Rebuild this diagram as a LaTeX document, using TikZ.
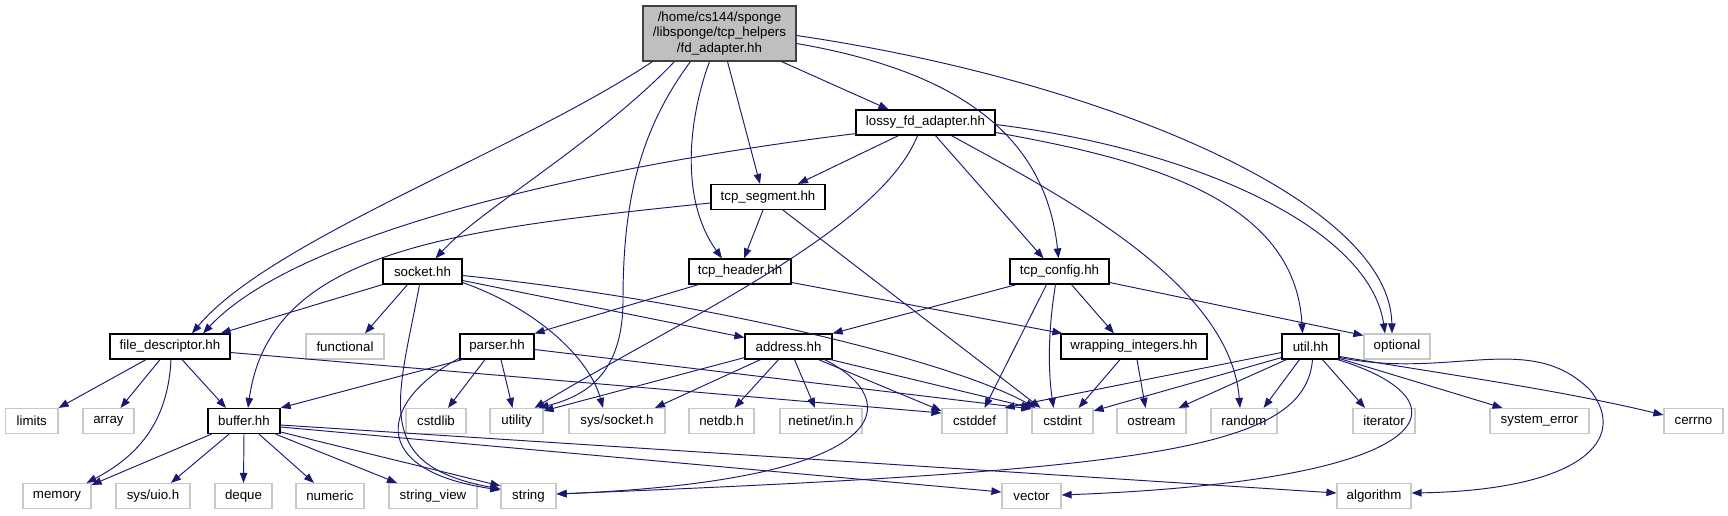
\documentclass[tikz,border=0pt]{standalone}
\usepackage{fontspec}
\setmainfont{Liberation Sans}
\usetikzlibrary{arrows.meta,calc}
\definecolor{edgeblue}{HTML}{191970}
\definecolor{rootfill}{HTML}{BFBFBF}
\definecolor{grayline}{HTML}{C8C8C8}
\newcommand\dfont{\fontsize{13.3}{15.5}\selectfont}
\tikzset{
  blk/.style={draw=black, line width=1.2pt, fill=white, minimum height=25pt, inner sep=0pt, font=\dfont},
  gry/.style={draw=grayline, line width=1.2pt, fill=white, minimum height=25pt, inner sep=0pt, font=\dfont},
  rootbox/.style={draw=black!75, line width=1.2pt, fill=rootfill, minimum width=153pt, minimum height=55pt, inner sep=0pt, align=center, font=\dfont},
  edge/.style={draw=edgeblue, line width=0.95pt, -{Triangle[length=10pt,width=7.5pt]}}
}
\begin{document}
\begin{tikzpicture}[x=1pt,y=-1pt]
\useasboundingbox (0,0) rectangle (1728,515);
% nodes
\node[rootbox] (root) at (719.5,33.5) {/home/cs144/sponge\\/libsponge/tcp\_helpers\\/fd\_adapter.hh};
\node[blk, minimum width=139pt] (lossy) at (925.5,122.5) {lossy\_fd\_adapter.hh};
\node[blk, minimum width=114pt] (tcpseg) at (768,197) {tcp\_segment.hh};
\node[blk, minimum width=79pt] (socket) at (422.5,271.5) {socket.hh};
\node[blk, minimum width=102pt] (tcphdr) at (740,271.5) {tcp\_header.hh};
\node[blk, minimum width=99pt] (tcpcfg) at (1059.5,271.5) {tcp\_config.hh};
\node[blk, minimum width=120pt] (fdesc) at (170,346.5) {file\_descriptor.hh};
\node[gry, minimum width=78pt] (functional) at (345,346.5) {functional};
\node[blk, minimum width=74pt] (parser) at (497,346.5) {parser.hh};
\node[blk, minimum width=87pt] (address) at (788.5,346.5) {address.hh};
\node[blk, minimum width=146pt] (wrapping) at (1134,346.5) {wrapping\_integers.hh};
\node[blk, minimum width=57pt] (util) at (1310.5,346.5) {util.hh};
\node[gry, minimum width=66pt] (optional) at (1397,346.5) {optional};
% row 1
\node[gry, minimum width=52.5pt] (limits) at (31.75,421) {limits};
\node[gry, minimum width=51pt] (array) at (108.5,421) {array};
\node[blk, minimum width=72pt] (buffer) at (244,421) {buffer.hh};
\node[gry, minimum width=60pt] (cstdlib) at (436,421) {cstdlib};
\node[gry, minimum width=53pt] (utility) at (516.5,421) {utility};
\node[gry, minimum width=96pt] (syssocket) at (617,421) {sys/socket.h};
\node[gry, minimum width=65pt] (netdb) at (721.5,421) {netdb.h};
\node[gry, minimum width=82pt] (netinet) at (821,421) {netinet/in.h};
\node[gry, minimum width=65pt] (cstddef) at (974.5,421) {cstddef};
\node[gry, minimum width=61pt] (cstdint) at (1062.5,421) {cstdint};
\node[gry, minimum width=69pt] (ostream) at (1151.5,421) {ostream};
\node[gry, minimum width=66pt] (random) at (1244,421) {random};
\node[gry, minimum width=62pt] (iterator) at (1384,421) {iterator};
\node[gry, minimum width=99pt] (syserr) at (1539.5,421) {system\_error};
\node[gry, minimum width=59pt] (cerrno) at (1693.5,421) {cerrno};
% row 2
\node[gry, minimum width=68pt] (memory) at (57,496) {memory};
\node[gry, minimum width=74pt] (sysuio) at (153,496) {sys/uio.h};
\node[gry, minimum width=57pt] (deque) at (243.5,496) {deque};
\node[gry, minimum width=68pt] (numeric) at (330,496) {numeric};
\node[gry, minimum width=88pt] (stringview) at (433,496) {string\_view};
\node[gry, minimum width=55pt] (string) at (528.5,496) {string};
\node[gry, minimum width=59pt] (vector) at (1031.5,496) {vector};
\node[gry, minimum width=74pt] (algorithm) at (1374,496) {algorithm};

% root edges
\draw[edge] ($(root.south west)+(10,0)$) .. controls (520,150) and (270,240) .. ($(fdesc.north)+(22,0)$);
\draw[edge] ($(root.south west)+(32,0)$) .. controls (600,140) and (480,210) .. ($(socket.north)+(13,0)$);
\draw[edge] ($(root.south west)+(48,0)$) .. controls (640,130) and (623,200) .. (623,300) .. controls (623,370) and (590,395) .. ($(utility.north east)+(-5,0)$);
\draw[edge] ($(root.south)+(-10,0)$) .. controls (688,120) and (680,200) .. ($(tcphdr.north)+(-18,0)$);
\draw[edge] ($(root.south)+(8,0)$) -- ($(tcpseg.north)+(-8,0)$);
\draw[edge] ($(root.south east)+(-15,0)$) -- ($(lossy.north)+(-37,0)$);
\draw[edge] ($(root.east)+(0,10)$) .. controls (950,70) and (1045,130) .. ($(tcpcfg.north)+(-1,0)$);
\draw[edge] ($(root.east)+(0,2)$) .. controls (1100,80) and (1390,200) .. ($(optional.north)+(-5,0)$);
% lossy edges
\draw[edge] ($(lossy.south west)+(0,-2)$) .. controls (600,165) and (300,230) .. ($(fdesc.north)+(33,0)$);
\draw[edge] ($(lossy.south)+(-27,0)$) -- ($(tcpseg.north)+(30,0)$);
\draw[edge] ($(lossy.south)+(-8,0)$) .. controls (880,230) and (680,320) .. ($(utility.north east)+(-9,0)$);
\draw[edge] ($(lossy.south)+(10,0)$) -- ($(tcpcfg.north)+(-16,0)$);
\draw[edge] ($(lossy.south)+(26,0)$) .. controls (1050,190) and (1230,280) .. ($(random.north)+(-4,0)$);
\draw[edge] ($(lossy.east)+(0,10)$) .. controls (1150,160) and (1295,200) .. ($(util.north)+(-8,0)$);
\draw[edge] ($(lossy.east)+(0,2)$) .. controls (1200,150) and (1370,230) .. ($(optional.north)+(-12,0)$);
% tcp_segment edges
\draw[edge] ($(tcpseg.west)+(0,6)$) .. controls (450,230) and (270,250) .. ($(buffer.north)+(4,0)$);
\draw[edge] ($(tcpseg.south)+(-5,0)$) -- ($(tcphdr.north)+(4,0)$);
\draw[edge] ($(tcpseg.south)+(15,0)$) -- ($(cstdint.north)+(-22,0)$);
% socket edges
\draw[edge] (socket.south west) -- ($(fdesc.north east)+(-10,0)$);
\draw[edge] ($(socket.south)+(-15,0)$) -- ($(functional.north)+(20,0)$);
\draw[edge] ($(socket.south)+(-3,0)$) .. controls (398,400) and (370,465) .. ($(string.west)+(0,-7)$);
\draw[edge] ($(socket.east)+(0,11)$) .. controls (540,310) and (590,360) .. ($(syssocket.north)+(-14,0)$);
\draw[edge] ($(socket.east)+(0,9)$) -- ($(address.west)+(0,-9)$);
\draw[edge] ($(socket.east)+(0,4)$) .. controls (700,300) and (950,360) .. ($(cstdint.north)+(-27,0)$);
% tcp_header edges
\draw[edge] ($(tcphdr.south west)+(10,0)$) -- (parser.north east);
\draw[edge] ($(tcphdr.east)+(0,11)$) -- ($(wrapping.north west)+(2,0)$);
% tcp_config edges
\draw[edge] ($(tcpcfg.south west)+(7,0)$) -- (address.north east);
\draw[edge] ($(tcpcfg.south)+(-13,0)$) -- ($(cstddef.north)+(10,0)$);
\draw[edge] ($(tcpcfg.south)+(-4,0)$) .. controls (1048,330) and (1048,370) .. ($(cstdint.north)+(-9,0)$);
\draw[edge] ($(tcpcfg.south)+(12,0)$) -- ($(wrapping.north)+(-20,0)$);
\draw[edge] ($(tcpcfg.east)+(0,11)$) -- ($(optional.north west)+(0,2)$);
% file_descriptor edges
\draw[edge] ($(fdesc.south)+(-24,0)$) -- (limits.north east);
\draw[edge] ($(fdesc.south)+(-10,0)$) -- ($(array.north)+(12,0)$);
\draw[edge] ($(fdesc.south)+(1,0)$) .. controls (168,420) and (140,455) .. ($(memory.north east)+(-5,0)$);
\draw[edge] ($(fdesc.south)+(12,0)$) -- ($(buffer.north)+(-18,0)$);
\draw[edge] ($(fdesc.east)+(0,6)$) -- ($(cstddef.west)+(0,-8)$);
% parser edges
\draw[edge] ($(parser.south west)+(3,0)$) -- (buffer.north east);
\draw[edge] ($(parser.south west)+(1,-2)$) .. controls (380,400) and (365,470) .. ($(string.west)+(0,-6)$);
\draw[edge] ($(parser.south)+(-12,0)$) -- ($(cstdlib.north)+(12,0)$);
\draw[edge] ($(parser.south)+(4,0)$) -- ($(utility.north)+(-4,0)$);
\draw[edge] ($(parser.east)+(0,3)$) -- ($(cstdint.north west)+(0,1)$);
% address edges
\draw[edge] ($(address.south west)+(0,-2)$) -- ($(utility.north east)+(0,3)$);
\draw[edge] ($(address.south)+(-28,0)$) -- ($(syssocket.north)+(38,0)$);
\draw[edge] ($(address.south)+(-10,0)$) -- ($(netdb.north)+(13,0)$);
\draw[edge] ($(address.south)+(6,0)$) -- ($(netinet.north)+(-6,0)$);
\draw[edge] ($(address.south)+(30,0)$) -- ($(cstddef.north west)+(0,3)$);
\draw[edge] ($(address.south east)+(-2,0)$) -- (cstdint.north west);
\draw[edge] ($(address.south)+(36,0)$) .. controls (905,400) and (900,480) .. ($(string.east)+(0,-2)$);
% buffer edges
\draw[edge] ($(buffer.south west)+(4,0)$) -- ($(memory.north east)+(0,2)$);
\draw[edge] ($(buffer.south)+(-15,0)$) -- ($(sysuio.north)+(18,0)$);
\draw[edge] (buffer.south) -- (deque.north);
\draw[edge] ($(buffer.south)+(15,0)$) -- ($(numeric.north)+(-16,0)$);
\draw[edge] ($(buffer.south east)+(-5,0)$) -- ($(stringview.north)+(-36,0)$);
\draw[edge] ($(buffer.east)+(0,11)$) -- ($(string.north west)+(0,3)$);
\draw[edge] ($(buffer.east)+(0,6)$) -- ($(vector.west)+(0,-4)$);
\draw[edge] ($(buffer.east)+(0,4)$) -- ($(algorithm.west)+(0,-3)$);
% wrapping edges
\draw[edge] ($(wrapping.south)+(-14,0)$) -- ($(cstdint.north east)+(-15,0)$);
\draw[edge] ($(wrapping.south)+(3,0)$) -- ($(ostream.north)+(-6,0)$);
% util edges
\draw[edge] ($(util.west)+(0,6)$) -- ($(cstddef.north east)+(-3,0)$);
\draw[edge] ($(util.south west)+(0,-2)$) -- ($(cstdint.north east)+(0,3)$);
\draw[edge] ($(util.south west)+(5,0)$) -- ($(ostream.north east)+(-8,0)$);
\draw[edge] ($(util.south)+(-11,0)$) -- ($(random.north east)+(-14,0)$);
\draw[edge] ($(util.south)+(12,0)$) -- ($(iterator.north)+(-19,0)$);
\draw[edge] ($(util.south east)+(0,-1)$) -- ($(syserr.north)+(-37,0)$);
\draw[edge] ($(util.east)+(0,10)$) .. controls (1450,375) and (1560,390) .. ($(cerrno.west)+(0,-6)$);
\draw[edge] ($(util.south)+(2,0)$) .. controls (1305,450) and (1150,470) .. ($(string.east)+(0,-2)$);
\draw[edge] ($(util.south east)+(-2,0)$) .. controls (1470,400) and (1450,480) .. ($(vector.east)+(0,-1)$);
\draw[edge] ($(util.east)+(0,11)$) .. controls (1450,380) and (1530,330) .. (1590,390) .. controls (1630,440) and (1580,490) .. ($(algorithm.east)+(0,-3)$);
\end{tikzpicture}
\end{document}
